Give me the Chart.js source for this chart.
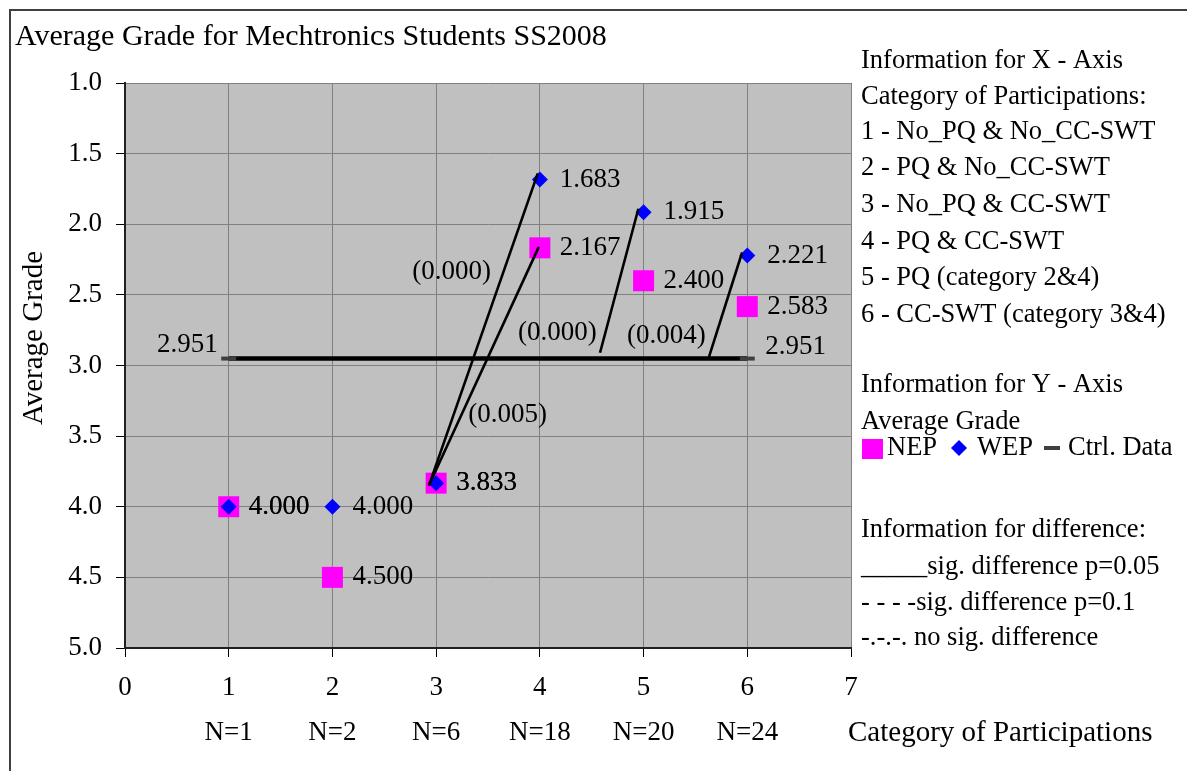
<!DOCTYPE html>
<html>
<head>
<meta charset="utf-8">
<script src="https://cdn.jsdelivr.net/npm/chart.js@4/dist/chart.umd.min.js"></script>
<style>
  html, body { margin: 0; padding: 0; background: #ffffff; }
  #wrap { width: 1187px; height: 771px; position: relative; }
  canvas { display: block; }
</style>
</head>
<body>
<div id="wrap"><canvas id="c" width="1187" height="771"></canvas></div>
<script>
// ---------- data ----------
const categories = [1, 2, 3, 4, 5, 6];
const nLabels = ['N=1', 'N=2', 'N=6', 'N=18', 'N=20', 'N=24'];
const nepValues = [4.000, 4.500, 3.833, 2.167, 2.400, 2.583];
const wepValues = [4.000, 4.000, 3.833, 1.683, 1.915, 2.221];
const ctrlCategories = [1, 6];
const ctrlValue = 2.951;
const xTicks = [0, 1, 2, 3, 4, 5, 6, 7];
const yTicks = [1.0, 1.5, 2.0, 2.5, 3.0, 3.5, 4.0, 4.5, 5.0];

// significance connectors (data units) and p-values
const sigStartX = [2.93, 2.93, 4.58, 5.63];
const sigStartY = [3.85, 3.85, 2.91, 2.94];
const sigEndX = [3.98, 3.99, 4.95, 5.95];
const sigEndY = [1.64, 2.16, 1.89, 2.20];
const sigPValues = ['(0.000)', '(0.005)', '(0.000)', '(0.004)'];
const sigLabelX = [3.15, 3.69, 4.17, 5.22];
const sigLabelY = [2.34, 3.35, 2.77, 2.79];

const chartTitle = 'Average Grade for Mechtronics Students SS2008';
const yAxisTitle = 'Average Grade';
const xAxisTitle = 'Category of Participations';
const infoLines = [
  'Information for X - Axis',
  'Category of Participations:',
  '1 - No_PQ & No_CC-SWT',
  '2 - PQ & No_CC-SWT',
  '3 - No_PQ & CC-SWT',
  '4 - PQ & CC-SWT',
  '5 - PQ (category 2&4)',
  '6 - CC-SWT (category 3&4)',
  'Information for Y - Axis',
  'Average Grade',
  'Information for difference:',
  '_____sig. difference p=0.05',
  '- - - -sig. difference p=0.1',
  '-.-.-. no sig. difference'
];
const infoLineY = [61, 97, 132, 168, 205, 242, 278, 315, 385, 422, 530, 567, 603, 638];
const legendNames = ['NEP', 'WEP', 'Ctrl. Data'];

// ---------- chart ----------
const SERIF = '"Liberation Serif", "Times New Roman", serif';
const NEP_COLOR = '#FF00FF';
const WEP_COLOR = '#0000FF';
const CTRL_MARK = '#404040';

const datasets = [];
for (let i = 0; i < sigStartX.length; i++) {
  datasets.push({
    label: 'sig' + i,
    data: [{x: sigStartX[i], y: sigStartY[i]}, {x: sigEndX[i], y: sigEndY[i]}],
    showLine: true,
    borderColor: '#000000',
    borderWidth: 2.6,
    pointRadius: 0,
    order: 0
  });
}
datasets.push({
  label: 'WEP',
  data: categories.map((c, i) => ({x: c, y: wepValues[i]})),
  pointStyle: 'rectRot',
  pointRadius: 8,
  pointBackgroundColor: WEP_COLOR,
  pointBorderWidth: 0,
  showLine: false,
  order: 1
});
datasets.push({
  label: 'NEP',
  data: categories.map((c, i) => ({x: c, y: nepValues[i]})),
  pointStyle: 'rect',
  pointRadius: 14.85,
  pointBackgroundColor: NEP_COLOR,
  pointBorderWidth: 0,
  showLine: false,
  order: 2
});
datasets.push({
  label: 'Ctrl. Data',
  data: ctrlCategories.map(c => ({x: c, y: ctrlValue})),
  showLine: true,
  borderColor: '#000000',
  borderWidth: 4.5,
  pointStyle: 'line',
  pointRadius: 7.5,
  pointBorderColor: CTRL_MARK,
  pointBorderWidth: 4,
  order: 3
});

const decorPlugin = {
  id: 'decor',
  beforeDraw(chart) {
    const {ctx, chartArea: a} = chart;
    ctx.save();
    ctx.fillStyle = '#ffffff';
    ctx.fillRect(0, 0, chart.width, chart.height);
    ctx.fillStyle = '#C0C0C0';
    ctx.fillRect(a.left, a.top, a.right - a.left, a.bottom - a.top);
    // outer frame (left and top)
    ctx.strokeStyle = '#404040';
    ctx.lineWidth = 2;
    ctx.beginPath();
    ctx.moveTo(10, chart.height);
    ctx.lineTo(10, 10);
    ctx.lineTo(chart.width, 10);
    ctx.stroke();
    ctx.restore();
  },
  afterDraw(chart) {
    const {ctx} = chart;
    const xs = chart.scales.x, ys = chart.scales.y;
    ctx.save();
    ctx.fillStyle = '#000000';
    // title
    ctx.font = '30px ' + SERIF;
    ctx.textAlign = 'left';
    ctx.textBaseline = 'middle';
    ctx.fillText(chartTitle, 15, 37);
    // y axis title
    ctx.save();
    ctx.translate(34, 338);
    ctx.rotate(-Math.PI / 2);
    ctx.font = '29px ' + SERIF;
    ctx.textAlign = 'center';
    ctx.fillText(yAxisTitle, 0, 0);
    ctx.restore();
    // x axis title
    ctx.font = '29px ' + SERIF;
    ctx.textAlign = 'left';
    ctx.fillText(xAxisTitle, 848, 733);

    // value labels
    ctx.font = '27px ' + SERIF;
    ctx.textAlign = 'left';
    categories.forEach((c, i) => {
      const px = xs.getPixelForValue(c);
      ctx.fillText(nepValues[i].toFixed(3), px + 20, ys.getPixelForValue(nepValues[i]));
      ctx.fillText(wepValues[i].toFixed(3), px + 20, ys.getPixelForValue(wepValues[i]));
    });
    // ctrl labels
    const cy = ys.getPixelForValue(ctrlValue) - 14;
    ctx.textAlign = 'right';
    ctx.fillText(ctrlValue.toFixed(3), xs.getPixelForValue(ctrlCategories[0]) - 11, cy);
    ctx.textAlign = 'left';
    ctx.fillText(ctrlValue.toFixed(3), xs.getPixelForValue(ctrlCategories[1]) + 18, cy + 2);
    // p-values
    ctx.textAlign = 'center';
    sigPValues.forEach((t, i) => {
      ctx.fillText(t, xs.getPixelForValue(sigLabelX[i]), ys.getPixelForValue(sigLabelY[i]));
    });

    // info panel
    ctx.textAlign = 'left';
    ctx.font = '26.5px ' + SERIF;
    infoLines.forEach((t, i) => ctx.fillText(t, 861, infoLineY[i]));
    // legend row
    const ly = 448;
    ctx.fillStyle = NEP_COLOR;
    ctx.fillRect(862, ly - 9, 21, 20);
    ctx.fillStyle = '#000000';
    ctx.fillText(legendNames[0], 887, ly);
    ctx.fillStyle = WEP_COLOR;
    ctx.beginPath();
    ctx.moveTo(959, ly - 8); ctx.lineTo(967, ly); ctx.lineTo(959, ly + 8); ctx.lineTo(951, ly);
    ctx.closePath(); ctx.fill();
    ctx.fillStyle = '#000000';
    ctx.fillText(legendNames[1], 977, ly);
    ctx.fillStyle = CTRL_MARK;
    ctx.fillRect(1044, ly - 2, 16, 4);
    ctx.fillStyle = '#000000';
    ctx.fillText(legendNames[2], 1068, ly);
    ctx.restore();
  }
};

new Chart(document.getElementById('c'), {
  type: 'scatter',
  data: { datasets },
  plugins: [decorPlugin],
  options: {
    responsive: false,
    animation: false,
    events: [],
    layout: { padding: { left: 0, right: 336, top: 83, bottom: 0 } },
    plugins: { legend: { display: false }, tooltip: { enabled: false }, title: { display: false } },
    scales: {
      x: {
        type: 'linear',
        min: 0, max: 7,
        afterBuildTicks(scale) { scale.ticks = xTicks.map(v => ({value: v})); },
        afterFit(scale) { scale.height = 123; },
        grid: { color: '#808080', lineWidth: 1, tickColor: '#000000', tickLength: 9 },
        border: { color: '#202020', width: 2 },
        ticks: {
          autoSkip: false, maxRotation: 0, padding: 8.5, color: '#000000',
          font: { family: SERIF, size: 27, lineHeight: 45 / 27 },
          callback(v) {
            const i = categories.indexOf(v);
            return i >= 0 ? [String(v), nLabels[i]] : String(v);
          }
        }
      },
      y: {
        type: 'linear',
        reverse: true,
        min: 1, max: 5,
        afterBuildTicks(scale) { scale.ticks = yTicks.map(v => ({value: v})); },
        afterFit(scale) { scale.width = 125; },
        grid: { color: '#808080', lineWidth: 1, tickColor: '#000000', tickLength: 9 },
        border: { color: '#202020', width: 2 },
        ticks: {
          padding: 14, color: '#000000',
          font: { family: SERIF, size: 27 },
          callback(v) { return Number(v).toFixed(1); }
        }
      }
    }
  }
});
</script>
</body>
</html>
